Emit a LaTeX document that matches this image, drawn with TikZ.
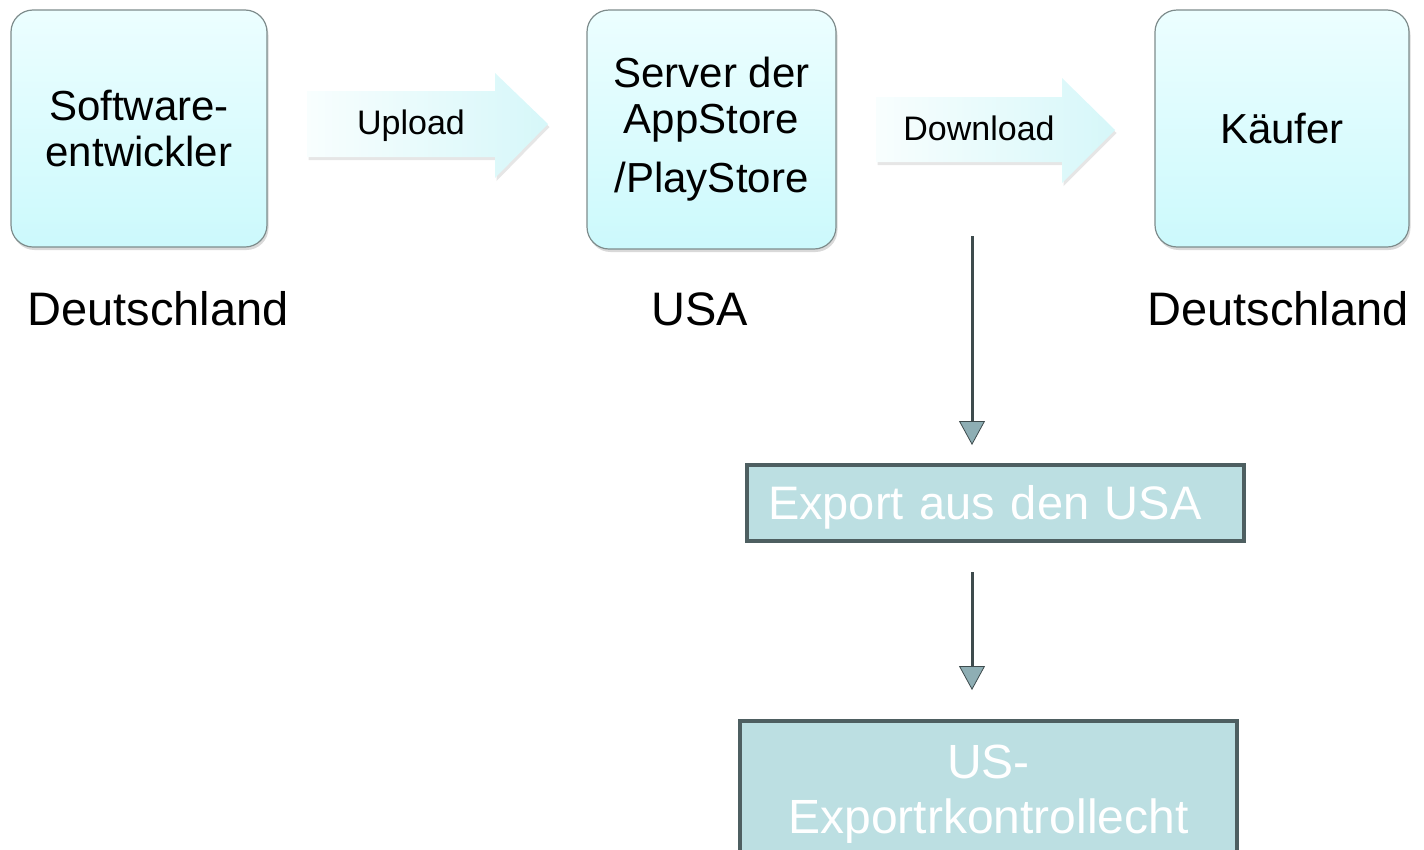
\documentclass[tikz,border=0pt]{standalone}
\usepackage{fontspec}
\setmainfont{Liberation Sans}
\usetikzlibrary{arrows.meta,shadows,calc}
\definecolor{boxtop}{HTML}{ECFEFF}
\definecolor{boxbot}{HTML}{CCF9FC}
\definecolor{boxline}{HTML}{7E8C8C}
\definecolor{arrL}{HTML}{F8FEFE}
\definecolor{arrR}{HTML}{D6F7F9}
\definecolor{tealfill}{HTML}{BCDFE2}
\definecolor{tealline}{HTML}{4E5F61}
\definecolor{connc}{HTML}{3E4B4D}
\definecolor{tipfill}{HTML}{8EAEB4}
\begin{document}
\begin{tikzpicture}[x=1pt,y=-1pt,
  rbox/.style={rectangle, rounded corners=22pt, draw=boxline, line width=1.2pt,
    top color=boxtop, bottom color=boxbot, align=center, inner sep=0pt,
    font=\fontsize{42}{46}\selectfont,
    drop shadow={opacity=0.3, shadow xshift=1.5pt, shadow yshift=-3pt}},
  barrow/.style={left color=arrL, right color=arrR,
    drop shadow={opacity=0.2, shadow xshift=1.5pt, shadow yshift=-3pt}},
  alab/.style={font=\fontsize{34}{38}\selectfont, inner sep=0pt},
  clab/.style={font=\fontsize{47}{52}\selectfont, inner sep=0pt, anchor=base},
  tbox/.style={rectangle, draw=tealline, line width=4pt, fill=tealfill, text=white},
  connline/.style={draw=connc, line width=3pt,
    -{Triangle[width=26pt,length=24pt,fill=tipfill,line width=0.8pt]}}
]
\clip (0,0) rectangle (1424,849);

% rounded boxes
\node[rbox, minimum width=256pt, minimum height=237pt] (dev) at (139,128.5) {Software-\\entwickler};
\node[rbox, minimum width=249pt, minimum height=239pt] (srv) at (711.5,129.5) {Server der\\AppStore\\[13pt]/PlayStore};
\node[rbox, minimum width=254pt, minimum height=237pt] (buy) at (1282,128.5) {Käufer};

% country labels
\node[clab] (de1) at (158,325) {Deutschland};
\node[clab] (usa) at (700,325) {USA};
\node[clab] (de2) at (1278,325) {Deutschland};

% block arrows
\path[barrow] (307,91) -- (495,91) -- (495,73) -- (548,124) -- (495,178) -- (495,157) -- (307,157) -- cycle;
\node[alab] (up) at (411,126) {Upload};
\path[barrow] (876,97) -- (1062,97) -- (1062,78) -- (1115,130) -- (1062,183) -- (1062,162) -- (876,162) -- cycle;
\node[alab] (down) at (979,128.6) {Download};

% teal boxes
\node[tbox, minimum width=497pt, minimum height=76pt, text width=455pt, align=left,
      inner xsep=21pt, text height=33pt, text depth=0pt,
      font=\fontsize{47}{52}\selectfont] (exp) at (995.5,503) {Export aus den USA};
\node[tbox, anchor=north, minimum width=497pt, inner ysep=24pt, align=center,
      font=\fontsize{48}{55}\selectfont] (us) at (988.5,719) {US-\\Exportrkontrollecht};

% connectors
\coordinate (c0) at (972,236);
\draw[connline, shorten >=18pt] (c0) -- (c0 |- exp.north);
\draw[connline, shorten <=29pt, shorten >=29pt] (c0 |- exp.south) -- (c0 |- us.north);
\end{tikzpicture}
\end{document}
